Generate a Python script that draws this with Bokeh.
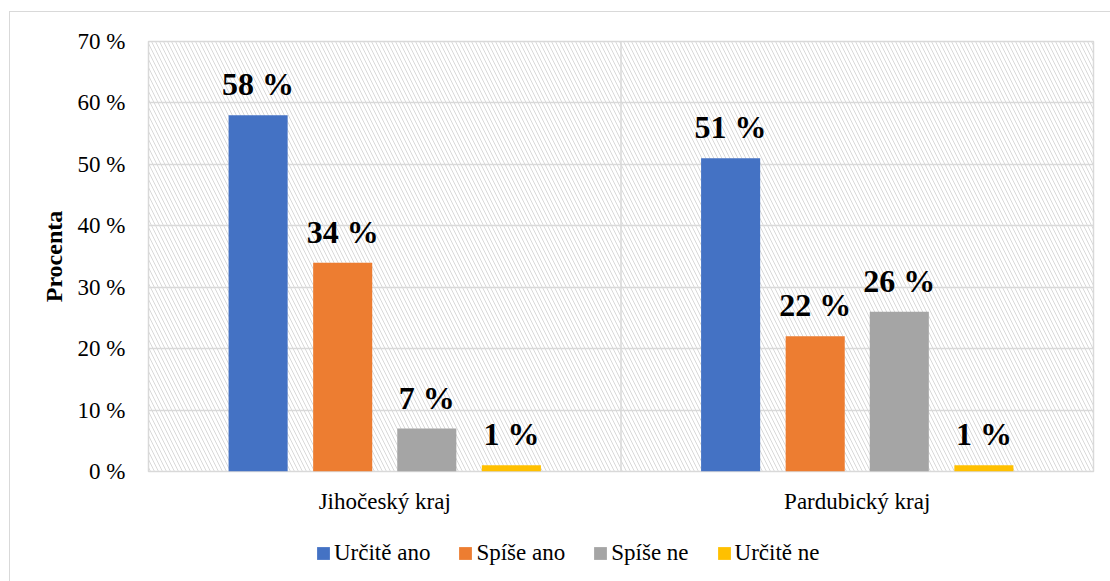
from bokeh.plotting import figure
from bokeh.models import FactorRange, Range1d, FixedTicker, BoxAnnotation, Span, ColumnDataSource, Legend
from bokeh.layouts import column
from bokeh.transform import dodge
from bokeh.core.properties import value
from bokeh.embed import file_html
from bokeh.resources import INLINE

regions = ["Jihočeský kraj", "Pardubický kraj"]
series = ["Určitě ano", "Spíše ano", "Spíše ne", "Určitě ne"]
vals_urcite_ano = [58, 51]
vals_spise_ano = [34, 22]
vals_spise_ne = [7, 26]
vals_urcite_ne = [1, 1]
colors = ["#4472C4", "#ED7D31", "#A5A5A5", "#FFC000"]
y_ticks = [0, 10, 20, 30, 40, 50, 60, 70]
y_tick_labels = ["0 %", "10 %", "20 %", "30 %", "40 %", "50 %", "60 %", "70 %"]

all_vals = [vals_urcite_ano, vals_spise_ano, vals_spise_ne, vals_urcite_ne]
offsets = [-0.268, -0.089, 0.089, 0.268]
FONT = value("Liberation Serif")

p = figure(x_range=FactorRange(*regions), y_range=Range1d(0, 70),
           width=1100, height=509, output_backend="svg", toolbar_location=None,
           title=None, min_border_left=138, min_border_right=17,
           min_border_top=29, min_border_bottom=50)
p.x_range.range_padding = 0

p.background_fill_color = "white"
p.border_fill_color = "white"
p.outline_line_color = "#d9d9d9"
p.outline_line_width = 1.5

hatch = BoxAnnotation(fill_color=None, fill_alpha=0, line_color=None,
                      hatch_pattern="\\", hatch_color="#d9d9d9",
                      hatch_scale=8, hatch_weight=1, level="image")
p.add_layout(hatch)

# legend strip (separate figure whose frame holds only the legend)
lg = figure(x_range=Range1d(0, 1), y_range=Range1d(1000, 1001),
            width=1100, height=60, output_backend="svg", toolbar_location=None,
            title=None, min_border=0, x_axis_location=None, y_axis_location=None)
lg.outline_line_color = None
lg.grid.grid_line_color = None
lg.background_fill_color = "white"
lg.border_fill_color = "white"

items = []
for name, vals, col, off in zip(series, all_vals, colors, offsets):
    src = ColumnDataSource(dict(region=regions, val=vals, label=[f"{v} %" for v in vals]))
    p.vbar(x=dodge("region", off, range=p.x_range), top="val", width=0.125,
           source=src, fill_color=col, line_color=None)
    p.text(x=dodge("region", off, range=p.x_range), y="val", text="label", source=src,
           text_align="center", text_baseline="alphabetic", y_offset=-31,
           text_font=FONT, text_font_style="bold", text_font_size="32px",
           text_color="black")
    lr = lg.vbar(x=[0.5], top=[0], width=0.1, fill_color=col, line_color=None)
    items.append((name, [lr]))

sep = Span(location=len(regions) / 2, dimension="height", line_color="#d9d9d9", line_width=1.5)
p.add_layout(sep)

p.ygrid.ticker = FixedTicker(ticks=y_ticks)
p.ygrid.grid_line_color = "#d9d9d9"
p.ygrid.grid_line_width = 1.5
p.xgrid.grid_line_color = None

p.yaxis.ticker = FixedTicker(ticks=y_ticks)
p.yaxis.major_label_overrides = {t: l for t, l in zip(y_ticks, y_tick_labels)}
p.yaxis.axis_line_color = None
p.yaxis.major_tick_line_color = None
p.yaxis.minor_tick_line_color = None
p.yaxis.major_tick_out = 0
p.yaxis.major_label_standoff = 23
p.yaxis.major_label_text_font = "Liberation Serif"
p.yaxis.major_label_text_font_size = "23px"
p.yaxis.major_label_text_color = "black"
p.yaxis.axis_label = "Procenta"
p.yaxis.axis_label_text_font = "Liberation Serif"
p.yaxis.axis_label_text_font_style = "bold"
p.yaxis.axis_label_text_font_size = "24px"
p.yaxis.axis_label_text_color = "black"
p.yaxis.axis_label_standoff = 8

p.xaxis.axis_line_color = None
p.xaxis.major_tick_line_color = None
p.xaxis.major_tick_out = 0
p.xaxis.major_label_standoff = 17
p.xaxis.major_label_text_font = "Liberation Serif"
p.xaxis.major_label_text_font_size = "23px"
p.xaxis.major_label_text_color = "black"

legend = Legend(items=items, orientation="horizontal", location=(167, 15),
                border_line_color=None, background_fill_alpha=0, padding=0, margin=0,
                spacing=27, label_standoff=3, glyph_width=16, glyph_height=16,
                label_height=16, label_text_font="Liberation Serif",
                label_text_font_size="23px", label_text_color="black")
lg.add_layout(legend, "center")

layout = column(p, lg, spacing=0)
layout.styles = {"margin-left": "9px", "margin-top": "11px",
                 "border-left": "1px solid #d9d9d9", "border-top": "1px solid #d9d9d9"}

open("out.html", "w").write(file_html(layout, INLINE))
